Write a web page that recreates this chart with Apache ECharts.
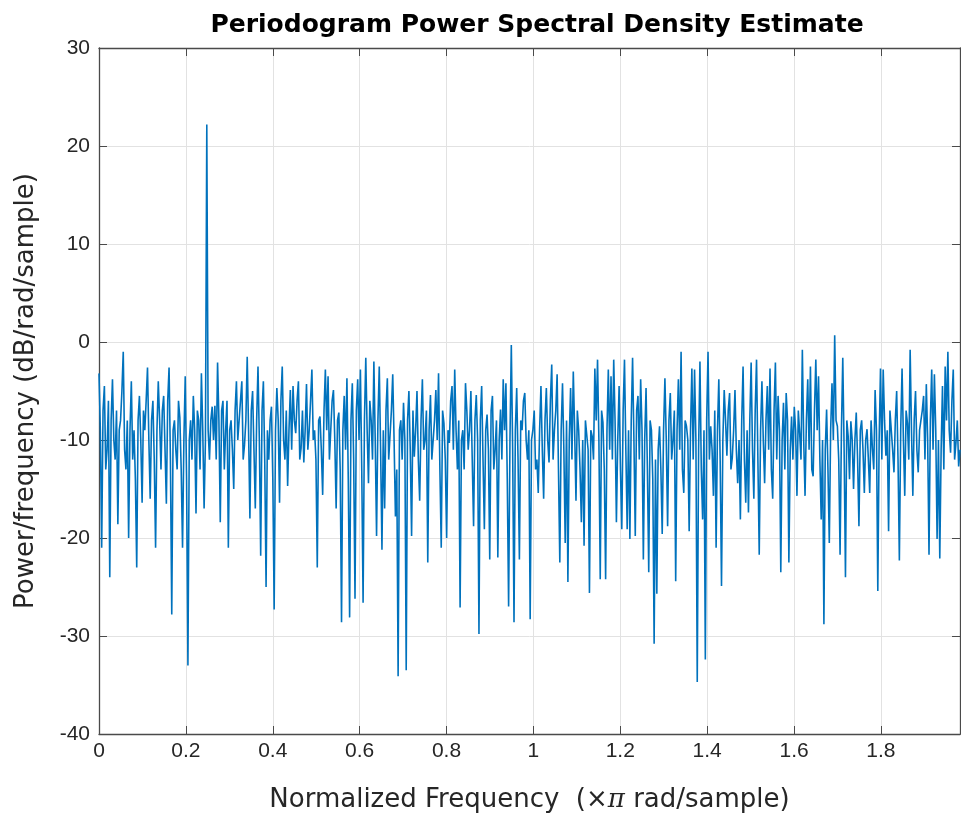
<!DOCTYPE html>
<html>
<head>
<meta charset="utf-8">
<script src="https://cdn.jsdelivr.net/npm/echarts@6/dist/echarts.min.js"></script>
<style>
html,body{margin:0;padding:0;background:#fff;}
#chart{width:961px;height:822px;}
</style>
</head>
<body>
<div id="chart"></div>
<script>
// Periodogram PSD estimate (dB/rad/sample).
// Each block holds the visible peaks/dips ("edge") and the values between them ("mid").
const freqMax = 1.982;           // last frequency bin (x pi rad/sample)
const edge1 = [-3.2,-21,-4.5,-11,-24,-3.8,-12,-18.6,-8,-1,-13,-20,-4,-9,-23,-5.5,-16.4,-9,-2.6,-16,-6,-21,-4,-13,-5.5,-16.5,-2.6,-27.8,-8,-13,-7.7,-21,-3.5,-33,-8,-5.5,-17.5,-8,-3.2,-17];
const mid1  = [-9,-7,-13,-6,-8,-10,-7,-9,-5,-11,-8,-9,-12,-14,-8,-10,-7,-6,-10,-8,-12,-9,-8,-7,-11,-6,-12,-9,-11,-6,-13,-10,-14,-10,-12,-9,-7,-13,-9,-10];
const edge2 = [22.2,-12,-6.6,-6.5,-2.1,-18.4,-6,-9,-21,-8,-15,-4,-10,-4,-10.5,-1.5,-18,-5,-17,-2.5,-21.8,-4,-25,-12,-6.6,-27.3,-4.7,-16.4,-2.5,-12,-14.7,-4.9,-4.5,-9.3,-4,-10.8,-12.3,-4.3,-9,-2.8];
const mid2  = [-9,-8,-10,-12,-8,-7,-13,-6,-9,-11,-7,-10,-6,-12,-8,-9,-7,-11,-8,-10,-7,-12,-9,-8,-14,-9,-8,-6,-10,-7,-9,-11,-8,-6,-12,-7,-9,-11,-6,-10];
const edge3 = [-9,-23,-7.6,-15.6,-2.8,-3.5,-9,-4.9,-17,-7.2,-28.6,-5.5,-3.7,-28.1,-4.2,-26.2,-3.8,-2.8,-26.6,-1.6,-14.4,-8,-2,-19.8,-2.5,-21.2,-17,-3.7,-12,-3.3,-17.8,-34.1,-8,-6.2,-33.5,-5,-19.8,-11.7,-5,-16.2];
const mid3  = [-12,-8,-11,-7,-9,-12,-6,-10,-8,-13,-9,-11,-14,-8,-12,-7,-10,-13,-8,-9,-6,-12,-10,-8,-11,-9,-7,-12,-7,-10,-13,-9,-12,-10,-8,-11,-7,-9,-12,-8];
const edge4 = [-3.8,-10,-22.5,-5.4,-12,-4.9,-3.2,-21,-8.3,-20,-10.3,-4.5,-2.8,-13,-27.1,-9,-4.2,-11,-5,-18.8,-5.4,-29.8,-4.5,-19.1,-7.4,-22.2,-5.5,-11,-22,-6.9,-3.8,-4.2,-27,-0.3,-28.6,-4.7,-22.2,-9,-5.2,-12];
const mid4  = [-11,-7,-9,-12,-8,-10,-13,-7,-12,-9,-6,-11,-9,-8,-10,-13,-7,-9,-12,-8,-10,-8,-12,-9,-11,-7,-13,-8,-10,-12,-9,-14,-10,-11,-9,-12,-8,-6,-10,-9];
const edge5 = [-28.3,-9,-13,-15.4,-4.5,-16,-4.7,-12.3,-2.3,-9,-3.3,-22.5,-4.2,-20.5,-24.5,-4.7,-3,-16.2,-9,-18.4,-20.8,-7.9,-25.6,-9.6,-2.7,-1.8,-24.2,-8.2,-24.2,-2.8,-3.5,-1.8,-18.4,-4.5,-19.1,-1.8,-19.1,-20.1,-1.6,-19.8];
const mid5  = [-10,-7,-12,-9,-11,-8,-10,-6,-12,-7,-13,-9,-11,-8,-10,-12,-9,-7,-13,-10,-8,-11,-9,-12,-8,-10,-7,-13,-9,-11,-12,-8,-10,-13,-7,-11,-9,-8,-10,-7];
const edge6 = [-5.5,-3.8,-22.2,-4.7,-23.5,-9,-30.8,-25.7,-8.6,-19.6,-3.7,-18.8,-5.2,-10,-24.4,-3.8,-1,-15.4,-8.6,-19.3,-2.7,-2.8,-34.7,-2,-18.1,-32.4,-1,-8.6,-15.7,-21,-3.8,-24.9,-4.9,-11.6,-5.2,-11.8,-4.9,-14.4,-18.1,-2.5];
const mid6  = [-12,-9,-10,-13,-8,-14,-12,-11,-13,-9,-10,-8,-12,-7,-9,-11,-13,-8,-10,-9,-12,-10,-11,-13,-9,-8,-12,-11,-7,-9,-12,-10,-8,-7,-13,-9,-11,-10,-8,-12];
const edge7 = [-16.4,-17.4,-2.1,-16,-1.8,-21.7,-4,-14.4,-4.5,-2.7,-16,-2.1,-5.5,-23.5,-6.2,-5.2,-22.5,-7.6,-6.6,-15.7,-9.3,-0.8,-15.7,-3.8,-2.5,-13.7,-1.8,-3.5,-18.1,-28.8,-6.9,-20.5,-4.2,0.7,-8.6,-21.7,-1.6,-24,-9.6,-8.1];
const mid7  = [-9,-8,-11,-7,-12,-9,-10,-8,-11,-13,-7,-12,-9,-10,-13,-8,-11,-12,-9,-7,-12,-10,-8,-11,-13,-7,-9,-12,-10,-11,-13,-9,-10,-8,-12,-9,-11,-8,-14,-10];
const edge8 = [-15,-7.2,-18.8,-8,-15.4,-8.9,-15.4,-10.9,-4.9,-25.4,-2.7,-2.8,-11.6,-19.3,-7,-13.3,-5,-22.3,-2.7,-15.7,-8.3,-0.8,-15.7,-5,-13.3,-9,-5.5,-4.3,-21.7,-2.8,-3.3,-20.1,-22.1,-4.5,-2.5,-1,-11.3,-2.8,-10.3,-12.7];
const mid8  = [-10,-12,-9,-11,-10,-12,-8,-13,-9,-10,-12,-8,-9,-7,-11,-8,-12,-9,-10,-7,-12,-9,-8,-11,-9,-7,-12,-10,-8,-11,-9,-10,-11,-13,-8,-9,-6,-12,-8,-11];
const xTicks = [0, 0.2, 0.4, 0.6, 0.8, 1, 1.2, 1.4, 1.6, 1.8];
const yTicks = [-40, -30, -20, -10, 0, 10, 20, 30];

const edges = [edge1, edge2, edge3, edge4, edge5, edge6, edge7, edge8];
const mids = [mid1, mid2, mid3, mid4, mid5, mid6, mid7, mid8];
const psd = [];
edges.forEach((e, b) => e.forEach((v, k) => { psd.push(v); psd.push(mids[b][k]); }));

const step = freqMax / (psd.length - 1);
const seriesData = psd.map((v, i) => [i * step, v]);

const axisColor = '#262626';
const lineAxis = '#4a4a4a';
const gridColor = '#e2e2e2';
const fontFam = '"DejaVu Sans", "Liberation Sans", Arial, sans-serif';
const tickFam = '"Liberation Sans", Arial, Helvetica, sans-serif';

const chart = echarts.init(document.getElementById('chart'), null, {renderer: 'canvas'});
const tickStyle = {show: true, inside: true, length: 8, lineStyle: {color: lineAxis, width: 1}};
const axLine = {show: true, onZero: false, lineStyle: {color: lineAxis, width: 1.3}};
chart.setOption({
  animation: false,
  backgroundColor: '#ffffff',
  title: {
    text: 'Periodogram Power Spectral Density Estimate',
    left: 532, top: 8, textAlign: 'center',
    textStyle: {fontFamily: fontFam, fontWeight: 'bold', fontSize: 25, color: '#000'}
  },
  grid: {left: 99, top: 48, right: 1, bottom: 88, containLabel: false},
  xAxis: [{
    type: 'value', min: 0, max: freqMax, interval: 0.2,
    position: 'bottom',
    name: 'Normalized Frequency  (×{i|π} rad/sample)',
    nameLocation: 'middle', nameGap: 53,
    nameTextStyle: {fontFamily: fontFam, fontSize: 26, color: axisColor,
      rich: {i: {fontFamily: '"DejaVu Serif", "Liberation Serif", serif', fontStyle: 'italic', fontSize: 26, color: axisColor}}},
    axisLine: axLine,
    axisTick: tickStyle,
    axisLabel: {fontFamily: tickFam, fontSize: 21, color: axisColor, margin: 7, showMaxLabel: false,
      formatter: v => { const r = Math.round(v * 10) / 10; return xTicks.includes(r) ? String(r) : ''; }},
    splitLine: {show: true, lineStyle: {color: gridColor, width: 1}}
  }, {
    type: 'value', min: 0, max: freqMax, interval: 0.2, position: 'top',
    axisLine: axLine,
    axisTick: tickStyle,
    axisLabel: {show: false}, splitLine: {show: false}
  }],
  yAxis: [{
    type: 'value', min: -40, max: 30, interval: 10, position: 'left',
    name: 'Power/frequency (dB/rad/sample)',
    nameLocation: 'middle', nameGap: 60,
    nameTextStyle: {fontFamily: fontFam, fontSize: 26, color: axisColor},
    axisLine: axLine,
    axisTick: tickStyle,
    axisLabel: {fontFamily: tickFam, fontSize: 21, color: axisColor, margin: 9,
      formatter: v => yTicks.includes(v) ? String(v) : ''},
    splitLine: {show: true, lineStyle: {color: gridColor, width: 1}}
  }, {
    type: 'value', min: -40, max: 30, interval: 10, position: 'right',
    axisLine: axLine,
    axisTick: tickStyle,
    axisLabel: {show: false}, splitLine: {show: false}
  }],
  series: [{
    type: 'line',
    data: seriesData,
    xAxisIndex: 0, yAxisIndex: 0,
    showSymbol: false, symbol: 'none',
    clip: true,
    lineStyle: {color: '#0072BD', width: 1.6},
    itemStyle: {color: '#0072BD'}
  }]
});
</script>
</body>
</html>
